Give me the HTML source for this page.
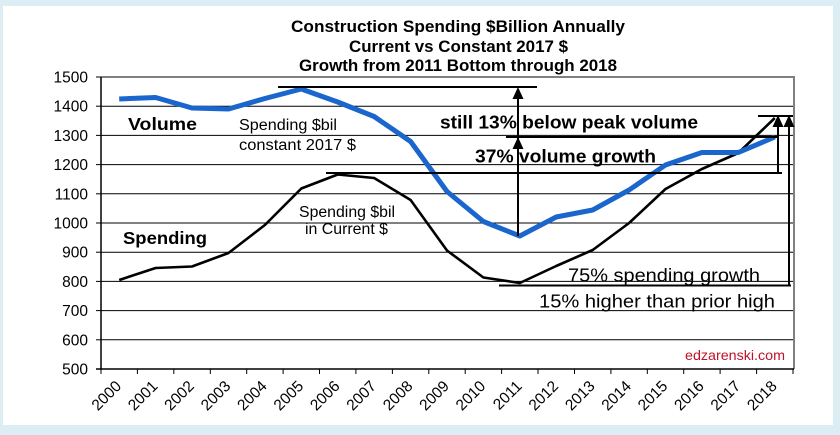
<!DOCTYPE html>
<html><head><meta charset="utf-8"><style>
html,body{margin:0;padding:0;background:#dcedf3;}
svg{display:block;}
</style></head><body>
<svg width="840" height="435" viewBox="0 0 840 435" xmlns="http://www.w3.org/2000/svg" font-family="'Liberation Sans', Arial, sans-serif">
<rect x="0" y="0" width="840" height="435" fill="#dcedf3"/>
<rect x="3" y="6" width="830" height="419" fill="#ffffff"/>

<!-- title -->
<g font-weight="bold" font-size="16.5" text-anchor="middle" fill="#000">
<text x="458" y="32" textLength="334" lengthAdjust="spacingAndGlyphs">Construction Spending  $Billion Annually</text>
<text x="458.5" y="52" textLength="219" lengthAdjust="spacingAndGlyphs">Current vs Constant 2017 $</text>
<text x="458" y="71" textLength="318" lengthAdjust="spacingAndGlyphs">Growth from 2011 Bottom through 2018</text>
</g>

<!-- gridlines -->
<g stroke="#000" stroke-width="1">
<line x1="101" y1="106.2" x2="793" y2="106.2"/>
<line x1="101" y1="135.4" x2="793" y2="135.4"/>
<line x1="101" y1="164.6" x2="793" y2="164.6"/>
<line x1="101" y1="193.8" x2="793" y2="193.8"/>
<line x1="101" y1="223" x2="793" y2="223"/>
<line x1="101" y1="252.2" x2="793" y2="252.2"/>
<line x1="101" y1="281.4" x2="793" y2="281.4"/>
<line x1="101" y1="310.6" x2="793" y2="310.6"/>
<line x1="101" y1="339.8" x2="793" y2="339.8"/>
</g>
<!-- plot border top/right gray -->
<polyline points="101,77 794,77 794,369" fill="none" stroke="#808080" stroke-width="2"/>
<!-- axes -->
<line x1="101" y1="77" x2="101" y2="370" stroke="#000" stroke-width="1.5"/>
<line x1="96" y1="369" x2="794" y2="369" stroke="#000" stroke-width="1.5"/>
<g stroke="#000" stroke-width="1">
<line x1="96" y1="77" x2="101" y2="77"/>
<line x1="96" y1="106.2" x2="101" y2="106.2"/>
<line x1="96" y1="135.4" x2="101" y2="135.4"/>
<line x1="96" y1="164.6" x2="101" y2="164.6"/>
<line x1="96" y1="193.8" x2="101" y2="193.8"/>
<line x1="96" y1="223" x2="101" y2="223"/>
<line x1="96" y1="252.2" x2="101" y2="252.2"/>
<line x1="96" y1="281.4" x2="101" y2="281.4"/>
<line x1="96" y1="310.6" x2="101" y2="310.6"/>
<line x1="96" y1="339.8" x2="101" y2="339.8"/>
</g>
<g stroke="#000" stroke-width="1">
<line x1="101" y1="369" x2="101" y2="374"/>
<line x1="137.4" y1="369" x2="137.4" y2="374"/>
<line x1="173.8" y1="369" x2="173.8" y2="374"/>
<line x1="210.3" y1="369" x2="210.3" y2="374"/>
<line x1="246.7" y1="369" x2="246.7" y2="374"/>
<line x1="283.1" y1="369" x2="283.1" y2="374"/>
<line x1="319.5" y1="369" x2="319.5" y2="374"/>
<line x1="355.9" y1="369" x2="355.9" y2="374"/>
<line x1="392.4" y1="369" x2="392.4" y2="374"/>
<line x1="428.8" y1="369" x2="428.8" y2="374"/>
<line x1="465.2" y1="369" x2="465.2" y2="374"/>
<line x1="501.6" y1="369" x2="501.6" y2="374"/>
<line x1="538" y1="369" x2="538" y2="374"/>
<line x1="574.5" y1="369" x2="574.5" y2="374"/>
<line x1="610.9" y1="369" x2="610.9" y2="374"/>
<line x1="647.3" y1="369" x2="647.3" y2="374"/>
<line x1="683.7" y1="369" x2="683.7" y2="374"/>
<line x1="720.1" y1="369" x2="720.1" y2="374"/>
<line x1="756.6" y1="369" x2="756.6" y2="374"/>
<line x1="793" y1="369" x2="793" y2="374"/>
</g>

<!-- y labels -->
<g font-size="15.5" text-anchor="end" fill="#000">
<text x="88" y="82.5">1500</text>
<text x="88" y="111.7">1400</text>
<text x="88" y="140.9">1300</text>
<text x="88" y="170.1">1200</text>
<text x="88" y="199.3">1100</text>
<text x="88" y="228.5">1000</text>
<text x="88" y="257.7">900</text>
<text x="88" y="286.9">800</text>
<text x="88" y="316.1">700</text>
<text x="88" y="345.3">600</text>
<text x="88" y="374.5">500</text>
</g>

<!-- x labels -->
<g font-size="15.5" text-anchor="end" fill="#000">
<text transform="translate(122.2,387) rotate(-45)">2000</text>
<text transform="translate(158.6,387) rotate(-45)">2001</text>
<text transform="translate(195,387) rotate(-45)">2002</text>
<text transform="translate(231.5,387) rotate(-45)">2003</text>
<text transform="translate(267.9,387) rotate(-45)">2004</text>
<text transform="translate(304.3,387) rotate(-45)">2005</text>
<text transform="translate(340.7,387) rotate(-45)">2006</text>
<text transform="translate(377.1,387) rotate(-45)">2007</text>
<text transform="translate(413.6,387) rotate(-45)">2008</text>
<text transform="translate(450,387) rotate(-45)">2009</text>
<text transform="translate(486.4,387) rotate(-45)">2010</text>
<text transform="translate(522.8,387) rotate(-45)">2011</text>
<text transform="translate(559.2,387) rotate(-45)">2012</text>
<text transform="translate(595.7,387) rotate(-45)">2013</text>
<text transform="translate(632.1,387) rotate(-45)">2014</text>
<text transform="translate(668.5,387) rotate(-45)">2015</text>
<text transform="translate(704.9,387) rotate(-45)">2016</text>
<text transform="translate(741.3,387) rotate(-45)">2017</text>
<text transform="translate(777.8,387) rotate(-45)">2018</text>
</g>

<!-- series: spending (black) -->
<polyline fill="none" stroke="#000" stroke-width="2.6" stroke-linejoin="round" points="119.2,280 155.6,268 192,266.5 228.5,253 264.9,225 301.3,188.5 337.7,174.5 374.1,178 410.6,200 447,250.5 483.4,277.5 519.8,283 556.2,266 592.7,250 629.1,223 665.5,189 701.9,169 738.3,153 774.8,118"/>
<!-- series: volume (blue) -->
<polyline fill="none" stroke="#1a66cc" stroke-width="5" stroke-linejoin="round" points="119.2,99 155.6,97.5 192,108 228.5,109 264.9,98.5 301.3,89 337.7,102 374.1,116.5 410.6,141.5 447,191.5 483.4,221.5 519.8,236 556.2,217 592.7,210 629.1,190 665.5,165 701.9,152.5 738.3,152.5 774.8,137"/>

<!-- annotations -->
<g stroke="#000" stroke-width="2" fill="none">
<line x1="278" y1="87" x2="537" y2="87"/>
<line x1="506" y1="137" x2="778" y2="137"/>
<line x1="326" y1="173" x2="782" y2="173"/>
<line x1="758" y1="116" x2="793" y2="116"/>
<line x1="499" y1="285.5" x2="791" y2="285.5"/>
<line x1="518" y1="92" x2="518" y2="236"/>
<line x1="778" y1="120" x2="778" y2="173"/>
<line x1="789" y1="120" x2="789" y2="286"/>
</g>
<g fill="#000">
<polygon points="518,87 512.5,99 523.5,99"/>
<polygon points="518,137 512.5,149 523.5,149"/>
<polygon points="778,115 772.5,127 783.5,127"/>
<polygon points="789,115 783.5,127 794.5,127"/>
</g>

<!-- text annotations -->
<g fill="#000">
<text x="128" y="130" font-size="17.5" font-weight="bold" textLength="69" lengthAdjust="spacingAndGlyphs">Volume</text>
<text x="123" y="244" font-size="17.5" font-weight="bold" textLength="84" lengthAdjust="spacingAndGlyphs">Spending</text>
<text x="239" y="130" font-size="15.5" textLength="98" lengthAdjust="spacingAndGlyphs">Spending $bil</text>
<text x="239" y="150" font-size="15.5" textLength="117" lengthAdjust="spacingAndGlyphs">constant 2017 $</text>
<text x="299" y="217" font-size="15.5" textLength="96" lengthAdjust="spacingAndGlyphs">Spending $bil</text>
<text x="305" y="234" font-size="15.5" textLength="83" lengthAdjust="spacingAndGlyphs">in Current $</text>
<text x="440" y="128.5" font-size="18.5" font-weight="bold" textLength="258" lengthAdjust="spacingAndGlyphs">still 13% below peak volume</text>
<text x="475" y="162.7" font-size="18.5" font-weight="bold" textLength="181" lengthAdjust="spacingAndGlyphs">37% volume growth</text>
<text x="568" y="281.5" font-size="18.5" textLength="192" lengthAdjust="spacingAndGlyphs">75% spending growth</text>
<text x="539" y="307.3" font-size="18.5" textLength="236" lengthAdjust="spacingAndGlyphs">15% higher than prior high</text>
<text x="685" y="360" font-size="14" fill="#c0102a" textLength="100" lengthAdjust="spacingAndGlyphs">edzarenski.com</text>
</g>
</svg>
</body></html>
